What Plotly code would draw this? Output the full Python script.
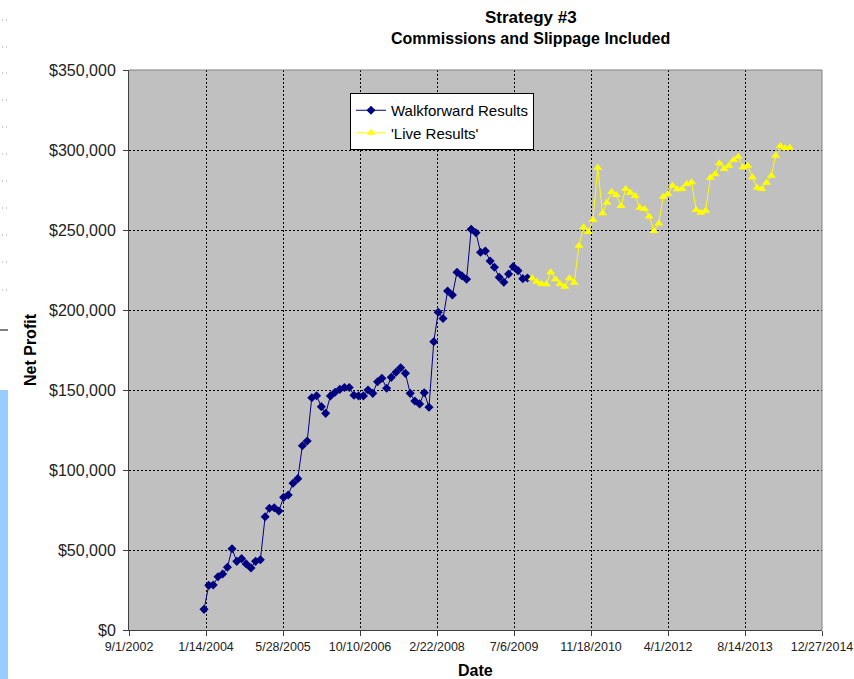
import pandas as pd
import plotly.graph_objects as go

# monthly equity points
wf_start = "2004-01-01"
wf_profit = [
    12900, 27900, 28100, 33300, 35000, 39200, 50800, 42900, 44600, 41300,
    38800, 42900, 43900, 70800, 76100, 76400, 74400, 82900, 84400, 91700,
    94600, 115200, 118100, 145200, 146400, 139600, 135400, 146300, 148600, 150400,
    151600, 151600, 146700, 146300, 146300, 150000, 147900, 155200, 157300, 151100,
    157900, 161100, 163900, 160400, 147900, 143100, 141300, 148300, 139200, 180200,
    198600, 194700, 211900, 209400, 223600, 221400, 219200, 250400, 248300, 236100,
    236900, 230600, 226700, 220400, 217300, 222500, 227100, 224600, 219600, 220000,
]

live_start = "2009-11-01"
live_profit = [
    219800, 217700, 216300, 216100, 223600, 219200, 216300, 214600, 219800, 217100,
    240200, 251700, 248800, 256300, 288900, 260400, 267100, 273800, 271900, 265000,
    275600, 273300, 271300, 263900, 263100, 258400, 249400, 254100, 270800, 272500,
    277700, 275400, 275600, 278800, 279800, 262500, 260800, 262100, 282700, 284800,
    291700, 288100, 290200, 293800, 295800, 289200, 290200, 282900, 276400, 275600,
    279600, 283900, 296400, 302500, 301100, 301400,
]

x_ticks = ["2002-09-01", "2004-01-14", "2005-05-28", "2006-10-10", "2008-02-22",
           "2009-07-06", "2010-11-18", "2012-04-01", "2013-08-14", "2014-12-27"]
x_labels = ["9/1/2002", "1/14/2004", "5/28/2005", "10/10/2006", "2/22/2008",
            "7/6/2009", "11/18/2010", "4/1/2012", "8/14/2013", "12/27/2014"]

wf_dates = pd.date_range(wf_start, periods=len(wf_profit), freq="MS")
live_dates = pd.date_range(live_start, periods=len(live_profit), freq="MS")

FONT = "Arial, Liberation Sans, sans-serif"
PW, PH = 693, 560  # plot area in px

fig = go.Figure()
fig.add_trace(go.Scatter(
    x=wf_dates, y=wf_profit, mode="lines+markers", name="Walkforward Results",
    line=dict(color="#000080", width=1),
    marker=dict(symbol="diamond", size=7, color="#000080"),
))
fig.add_trace(go.Scatter(
    x=live_dates, y=live_profit, mode="lines+markers", name="'Live Results'",
    line=dict(color="#FFFF00", width=1),
    marker=dict(symbol="triangle-up", size=8, color="#FFFF00"),
))

grid = dict(showgrid=True, gridcolor="black", gridwidth=1, griddash="2px,2px")

fig.update_xaxes(
    range=[x_ticks[0], x_ticks[-1]], tickvals=x_ticks, ticktext=x_labels,
    showline=True, linecolor="#404040", linewidth=1,
    ticks="outside", ticklen=5, tickcolor="#404040",
    tickfont=dict(family=FONT, size=12.5, color="#222"),
    automargin=False, zeroline=False, **grid,
)
fig.update_yaxes(
    range=[0, 350000], dtick=50000, tickprefix="$", tickformat=",d",
    showline=True, linecolor="#404040", linewidth=1,
    ticks="outside", ticklen=5, tickcolor="#404040", ticklabelstandoff=4,
    tickfont=dict(family=FONT, size=16, color="#222"),
    automargin=False, zeroline=False, **grid,
)

fig.add_annotation(text="<b>Strategy #3</b>", xref="paper", yref="paper", x=0.58, y=1.0946,
                   yanchor="middle", showarrow=False, font=dict(family=FONT, size=17, color="black"))
fig.add_annotation(text="<b>Commissions and Slippage Included</b>", xref="paper", yref="paper",
                   x=0.58, y=1.0571, yanchor="middle", showarrow=False,
                   font=dict(family=FONT, size=16, color="black"))
fig.add_annotation(text="<b>Date</b>", xref="paper", yref="paper", x=0.5, y=-40 / PH,
                   yanchor="middle", showarrow=False, font=dict(family=FONT, size=16, color="black"))
fig.add_annotation(text="<b>Net Profit</b>", xref="paper", yref="paper", x=-99 / PW, y=0.5,
                   xanchor="center", yanchor="middle", textangle=-90, showarrow=False,
                   font=dict(family=FONT, size=16, color="black"))

# grey frame on top and right of the plot area
fig.add_shape(type="line", xref="paper", yref="paper", x0=0, x1=1, y0=1, y1=1,
              line=dict(color="#808080", width=1))
fig.add_shape(type="line", xref="paper", yref="paper", x0=1, x1=1, y0=0, y1=1,
              line=dict(color="#808080", width=1))

# leftover bits of the page at the left edge of the screenshot
fig.add_shape(type="rect", xref="paper", yref="paper", x0=-129 / PW, x1=-121 / PW,
              y0=-49 / PH, y1=240 / PH, fillcolor="#99CCFF", line=dict(width=0))
fig.add_shape(type="line", xref="paper", yref="paper", x0=-129 / PW, x1=-121 / PW,
              y0=300 / PH, y1=300 / PH, line=dict(color="black", width=1))
for py in [20, 47, 73, 100, 127, 154, 181, 208, 235, 262, 290]:
    fig.add_shape(type="line", xref="paper", yref="paper", x0=-127 / PW, x1=-119 / PW,
                  y0=(630 - py) / PH, y1=(630 - py) / PH,
                  line=dict(color="#999999", width=1, dash="1px,3px"))

fig.update_layout(
    width=854, height=679,
    margin=dict(l=129, r=32, t=70, b=49),
    paper_bgcolor="white", plot_bgcolor="#C0C0C0",
    font=dict(family=FONT, color="black"),
    showlegend=True,
    legend=dict(x=(350 - 129) / PW, y=(630 - 93) / PH, xanchor="left", yanchor="top",
                bgcolor="white", bordercolor="black", borderwidth=1,
                font=dict(family=FONT, size=15, color="black"),
                tracegroupgap=0, itemwidth=30),
)

# drop the page's default body margin so the figure sits at the window corner
fig.write_html("out.html", config={"displayModeBar": False},
               post_script="document.body.style.margin='0';")
